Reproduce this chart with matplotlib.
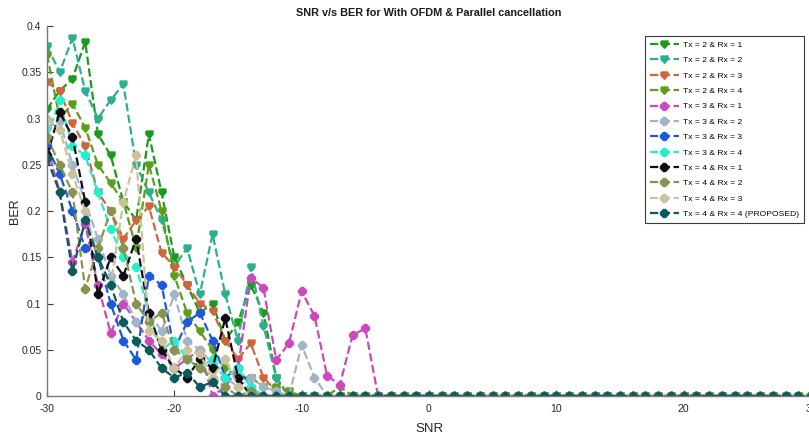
import matplotlib
matplotlib.use("Agg")
import matplotlib.pyplot as plt
import numpy as np

plt.rcParams['font.family'] = ['Liberation Sans', 'DejaVu Sans']
plt.rcParams['axes.unicode_minus'] = False

snr = list(range(-30, 31))

ber_2_1 = [0.31,0.33,0.343,0.383,0.283,0.26,0.21,0.19,0.283,0.22,0.15,0.12,0.09,0.10,0.06,0.08,0.12,0.09,0.02,0,0,0,0,0,0,0,0,0,0,0,0,0,0,0,0,0,0,0,0,0,0,0,0,0,0,0,0,0,0,0,0,0,0,0,0,0,0,0,0,0,0]
ber_2_2 = [0.378,0.35,0.387,0.33,0.30,0.32,0.337,0.25,0.22,0.19,0.14,0.16,0.11,0.175,0.11,0.06,0.14,0.076,0.02,0,0,0,0,0,0,0,0,0,0,0,0,0,0,0,0,0,0,0,0,0,0,0,0,0,0,0,0,0,0,0,0,0,0,0,0,0,0,0,0,0,0]
ber_2_3 = [0.339,0.33,0.295,0.27,0.22,0.20,0.17,0.19,0.205,0.155,0.14,0.12,0.10,0.092,0.06,0.04,0.057,0.02,0.005,0,0,0,0,0,0,0,0,0,0,0,0,0,0,0,0,0,0,0,0,0,0,0,0,0,0,0,0,0,0,0,0,0,0,0,0,0,0,0,0,0,0]
ber_2_4 = [0.369,0.30,0.316,0.29,0.25,0.23,0.21,0.16,0.25,0.20,0.13,0.09,0.07,0.05,0.03,0.02,0.02,0.01,0.01,0.005,0,0,0,0.01,0,0,0,0,0,0,0,0,0,0,0,0,0,0,0,0,0,0,0,0,0,0,0,0,0,0,0,0,0,0,0,0,0,0,0,0,0]
ber_3_1 = [0.27,0.22,0.145,0.186,0.12,0.068,0.10,0.08,0.06,0.045,0.03,0.04,0.05,0,0.01,0.03,0.128,0.117,0.039,0.057,0.113,0.087,0.022,0.012,0.066,0.073,0,0,0,0,0,0,0,0,0,0,0,0,0,0,0,0,0,0,0,0,0,0,0,0,0,0,0,0,0,0,0,0,0,0,0]
ber_3_2 = [0.29,0.297,0.25,0.21,0.17,0.13,0.11,0.08,0.09,0.07,0.11,0.06,0.05,0.035,0.02,0.01,0.02,0.01,0.005,0,0.055,0.02,0,0,0,0,0,0,0,0,0,0,0,0,0,0,0,0,0,0,0,0,0,0,0,0,0,0,0,0,0,0,0,0,0,0,0,0,0,0,0]
ber_3_3 = [0.27,0.24,0.20,0.16,0.15,0.10,0.06,0.039,0.13,0.12,0.05,0.08,0.09,0.06,0.02,0.03,0.01,0,0,0,0,0,0,0,0,0,0,0,0,0,0,0,0,0,0,0,0,0,0,0,0,0,0,0,0,0,0,0,0,0,0,0,0,0,0,0,0,0,0,0,0]
ber_3_4 = [0.28,0.32,0.27,0.26,0.22,0.18,0.15,0.14,0.09,0.05,0.06,0.04,0.03,0.04,0.02,0.03,0.01,0,0,0,0,0,0,0,0,0,0,0,0,0,0,0,0,0,0,0,0,0,0,0,0,0,0,0,0,0,0,0,0,0,0,0,0,0,0,0,0,0,0,0,0]
ber_4_1 = [0.26,0.307,0.28,0.21,0.11,0.15,0.13,0.17,0.09,0.05,0.03,0.02,0.04,0.03,0.084,0.02,0,0,0,0,0,0,0,0,0,0,0,0,0,0,0,0,0,0,0,0,0,0,0,0,0,0,0,0,0,0,0,0,0,0,0,0,0,0,0,0,0,0,0,0,0]
ber_4_2 = [0.28,0.25,0.22,0.116,0.16,0.20,0.16,0.10,0.08,0.09,0.05,0.04,0.03,0.02,0.01,0,0.005,0,0,0,0,0,0,0,0,0,0,0,0,0,0,0,0,0,0,0,0,0,0,0,0,0,0,0,0,0,0,0,0,0,0,0,0,0,0,0,0,0,0,0,0]
ber_4_3 = [0.30,0.288,0.24,0.20,0.15,0.12,0.21,0.26,0.07,0.06,0.03,0.05,0.045,0.02,0.04,0.01,0,0,0,0,0,0,0,0,0,0,0,0,0,0,0,0,0,0,0,0,0,0,0,0,0,0,0,0,0,0,0,0,0,0,0,0,0,0,0,0,0,0,0,0,0]
ber_4_4 = [0.257,0.22,0.135,0.19,0.15,0.12,0.08,0.06,0.05,0.03,0.02,0.025,0.01,0.015,0,0,0,0,0,0,0,0,0,0,0,0,0,0,0,0,0,0,0,0,0,0,0,0,0,0,0,0,0,0,0,0,0,0,0,0,0,0,0,0,0,0,0,0,0,0,0]

labels = ['Tx = 2 & Rx = 1', 'Tx = 2 & Rx = 2', 'Tx = 2 & Rx = 3', 'Tx = 2 & Rx = 4',
          'Tx = 3 & Rx = 1', 'Tx = 3 & Rx = 2', 'Tx = 3 & Rx = 3', 'Tx = 3 & Rx = 4',
          'Tx = 4 & Rx = 1', 'Tx = 4 & Rx = 2', 'Tx = 4 & Rx = 3', 'Tx = 4 & Rx = 4 (PROPOSED)']
series = [ber_2_1, ber_2_2, ber_2_3, ber_2_4, ber_3_1, ber_3_2, ber_3_3, ber_3_4,
          ber_4_1, ber_4_2, ber_4_3, ber_4_4]
colors = ['#1c9a1c', '#2ab08c', '#d0643c', '#5c9e1c', '#cc48bc', '#a2b4c8',
          '#1c5ad8', '#22f0cc', '#120c14', '#88944e', '#cac29a', '#0a5a5c']
xticks = [-30, -20, -10, 0, 10, 20, 30]
yticks = [0, 0.05, 0.1, 0.15, 0.2, 0.25, 0.3, 0.35, 0.4]
yticklabels = ['0', '0.05', '0.1', '0.15', '0.2', '0.25', '0.3', '0.35', '0.4']

shield = [(-1, 1), (1, 1), (1, 0), (0, -1.1), (-1, 0), (-1, 1)]
markers = [shield] * 4 + ['8'] * 8

fig = plt.figure(figsize=(8.09, 4.36), dpi=100)
ax = fig.add_axes([47/809, 40/436, 764/809, 370/436])

for y, lab, c, m in zip(series, labels, colors, markers):
    ax.plot(snr, y, linestyle='--', color=c, linewidth=1.6, marker=m,
            markersize=5.5, markerfacecolor=c, markeredgecolor=c, label=lab)

ax.set_xlim(-30, 30)
ax.set_ylim(0, 0.4)
ax.set_xticks(xticks)
ax.set_yticks(yticks)
ax.set_yticklabels(yticklabels)
for s in ['top', 'right']:
    ax.spines[s].set_visible(False)
for s in ['left', 'bottom']:
    ax.spines[s].set_color('#7a7a7a')
    ax.spines[s].set_linewidth(1.0)
ax.tick_params(direction='in', length=4, width=0.8, color='#3a3a3a',
               labelsize=7.5, labelcolor='#262626', pad=4)
ax.tick_params(axis='x', pad=6)
ax.set_xlabel('SNR', fontsize=9.5, color='#262626', labelpad=6)
ax.set_ylabel('BER', fontsize=9, color='#262626')
ax.yaxis.set_label_coords(-0.034, 0.5)
ax.set_title('SNR v/s BER for With OFDM & Parallel cancellation', fontsize=7.8,
             fontweight='bold', color='#1a1a1a', pad=7)

leg = ax.legend(loc='upper left', bbox_to_anchor=(0.783, 0.972), fontsize=6.1,
                handlelength=3.4, labelspacing=0.88, borderpad=0.55, handletextpad=0.5,
                frameon=True, fancybox=False, framealpha=1, borderaxespad=0)
leg.get_frame().set_edgecolor('#3a3a3a')
leg.get_frame().set_linewidth(0.8)

fig.savefig('out.png', dpi=100)
